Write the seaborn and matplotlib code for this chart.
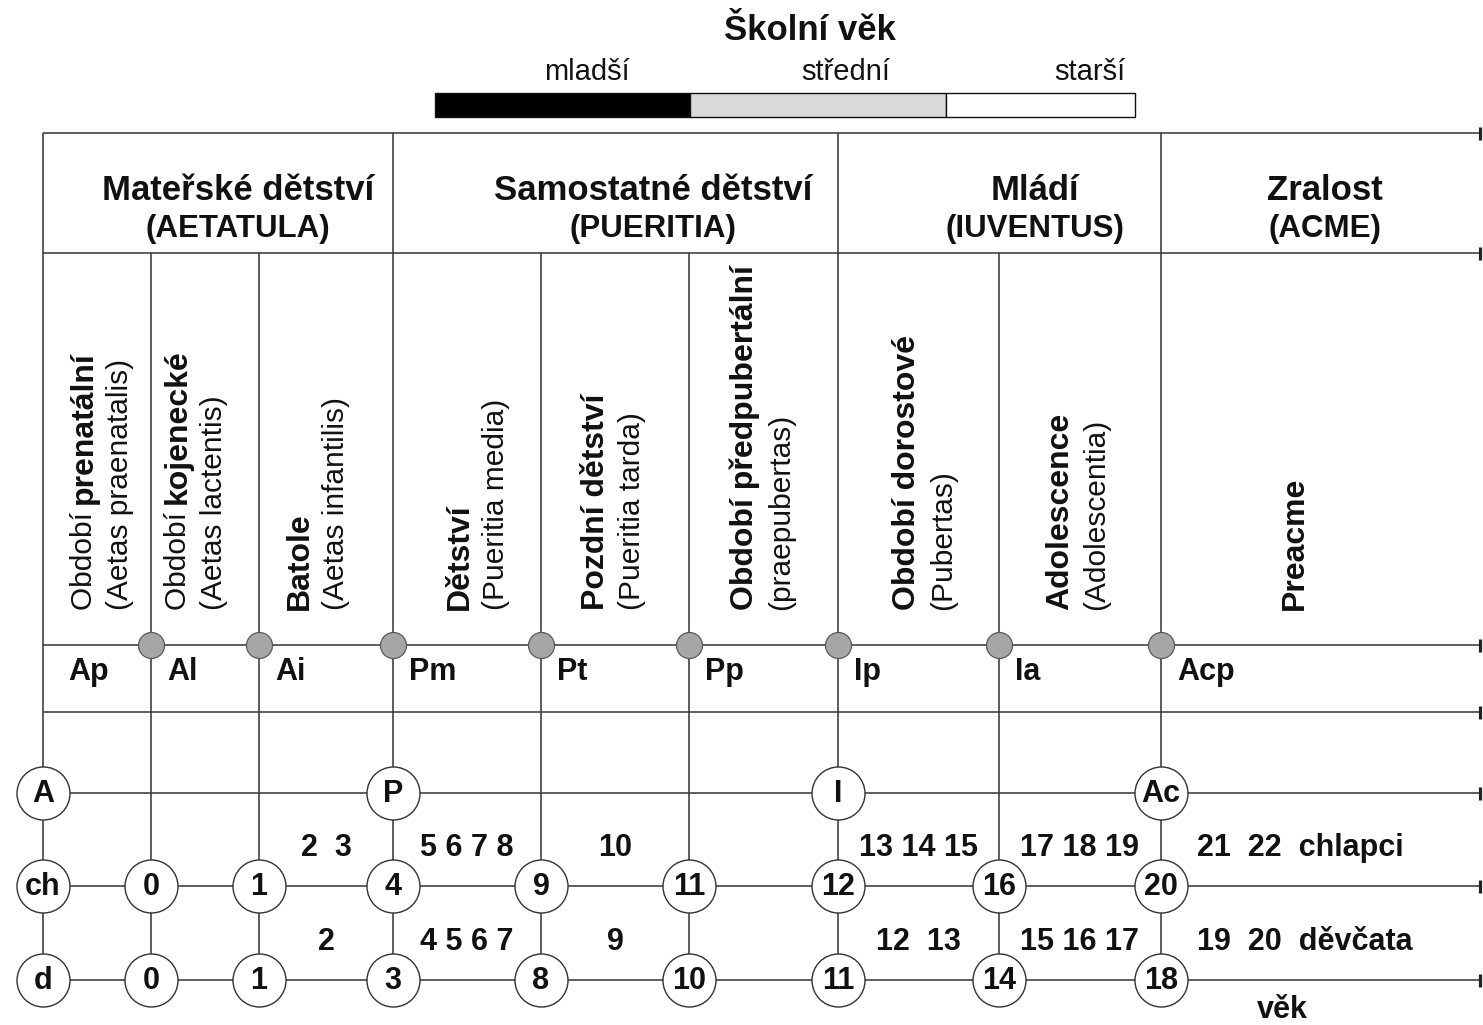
import matplotlib
matplotlib.use("Agg")
import matplotlib.pyplot as plt
import seaborn as sns
import pandas as pd

# ---------------- data ----------------
school_title = "Školní věk"
school_stages = ["mladší", "střední", "starší"]
school_colors = ["#000000", "#d9d9d9", "#ffffff"]

groups = ["Mateřské dětství", "Samostatné dětství", "Mládí", "Zralost"]
groups_latin = ["(AETATULA)", "(PUERITIA)", "(IUVENTUS)", "(ACME)"]

period_prefix = ["Období ", "Období ", "", "", "", "", "", "", ""]
period_names = ["prenatální", "kojenecké", "Batole", "Dětství", "Pozdní dětství",
                "Období předpubertální", "Období dorostové", "Adolescence", "Preacme"]
period_latin = ["(Aetas praenatalis)", "(Aetas lactentis)", "(Aetas infantilis)",
                "(Pueritia media)", "(Pueritia tarda)", "(praepubertas)",
                "(Pubertas)", "(Adolescentia)", ""]
period_codes = ["Ap", "Al", "Ai", "Pm", "Pt", "Pp", "Ip", "Ia", "Acp"]

stage_nodes = ["A", "", "", "P", "", "", "I", "", "Ac"]
boys_start = ["ch", "0", "1", "4", "9", "11", "12", "16", "20"]
girls_start = ["d", "0", "1", "3", "8", "10", "11", "14", "18"]
# ages lying inside each period (between its start node and the next one)
boys_between = [[], [], [2, 3], [5, 6, 7, 8], [10], [], [13, 14, 15], [17, 18, 19], [21, 22]]
girls_between = [[], [], [2], [4, 5, 6, 7], [9], [], [12, 13], [15, 16, 17], [19, 20]]
boys_label = "chlapci"
girls_label = "děvčata"
axis_label = "věk"

# ---------------- layout ----------------
W, H = 1483, 1025
col_x = [43, 151, 259, 393, 541, 689, 838, 999, 1161]
right_x = 1480
group_start_cols = [0, 3, 6, 8]
group_cx = [238, 653, 1035, 1325]
text_cx = [102, 196, 318, 478, 614, 763, 925, 1078, 1295]
bar_edges = [435, 690, 946, 1135]
bar_label_right = [630, 890, 1125]
y_top, y_group, y_dots, y_code = 133, 253, 645, 712
y_stage, y_boys, y_girls = 793, 886, 980
boys_sep = ["", "", "  ", " ", "", "", " ", " ", "  "]
girls_sep = ["", "", "", " ", "", "", "  ", " ", "  "]

LINE = "#3a3a3a"
TXT = "#111111"

sns.set_theme(style="white")
plt.rcParams['font.family'] = ['Liberation Sans', 'DejaVu Sans']

fig = plt.figure(figsize=(W / 100, H / 100), dpi=100)
ax = fig.add_axes([0, 0, 1, 1])
ax.set_xlim(0, W)
ax.set_ylim(H, 0)
ax.axis("off")

px = 72 / 100  # points per pixel

# ---- school age bar ----
for i, (lab, c) in enumerate(zip(school_stages, school_colors)):
    ax.barh(105, bar_edges[i + 1] - bar_edges[i], left=bar_edges[i], height=24,
            color=c, edgecolor="#111111", linewidth=1.0, zorder=3)
    ax.text(bar_label_right[i], 72, lab, ha="right", va="center", fontsize=21, color=TXT)
ax.text(810, 30, school_title, ha="center", va="center", fontsize=25,
        fontweight="bold", color=TXT)

# ---- grid lines ----
rows_y = [y_top, y_group, y_dots, y_code, y_stage, y_boys, y_girls]
ax.hlines(rows_y, col_x[0], right_x, color=LINE, linewidth=1.6 * px, zorder=1)
for i, x in enumerate(col_x):
    top = y_top if i in group_start_cols else y_group
    ax.vlines(x, top, y_girls, color=LINE, linewidth=1.6 * px, zorder=1)
ends = pd.DataFrame({"x": [right_x] * len(rows_y), "y": rows_y})
ax.scatter(ends["x"], ends["y"], marker="|", s=(13 * px) ** 2, linewidths=3.2 * px,
           color="#222222", zorder=2)

# ---- group headers ----
for g, gl, cx in zip(groups, groups_latin, group_cx):
    ax.text(cx, 190, g, ha="center", va="center", fontsize=25, fontweight="bold", color=TXT)
    ax.text(cx, 229, gl, ha="center", va="center", fontsize=22.5, fontweight="bold", color=TXT)

# ---- rotated period labels ----
for i in range(len(period_names)):
    lines = 2 if period_latin[i] else 1
    x1 = text_cx[i] - (18 if lines == 2 else 0)
    x2 = text_cx[i] + 18
    if period_prefix[i]:
        t = ax.text(x1, 610, period_prefix[i], rotation=90, rotation_mode="anchor",
                    ha="left", va="center", fontsize=21.5, color=TXT)
        ax.annotate(period_names[i], xy=(x1, 1.0), xycoords=("data", t),
                    rotation=90, rotation_mode="anchor", ha="left", va="center",
                    fontsize=23, fontweight="bold", color=TXT, annotation_clip=False)
    else:
        ax.text(x1, 610, period_names[i], rotation=90, rotation_mode="anchor",
                ha="left", va="center", fontsize=23, fontweight="bold", color=TXT)
    if period_latin[i]:
        ax.text(x2, 610, period_latin[i], rotation=90, rotation_mode="anchor",
                ha="left", va="center", fontsize=21.5, color=TXT)

# ---- gray dots & codes ----
dots = pd.DataFrame({"x": col_x[1:], "y": [y_dots] * (len(col_x) - 1)})
sns.scatterplot(data=dots, x="x", y="y", ax=ax, s=(26 * px) ** 2, color="#a6a6a6",
                edgecolor="#555555", linewidth=1.2 * px, zorder=4, legend=False)
for i, code in enumerate(period_codes):
    off = 25 if i == 0 else 16
    ax.text(col_x[i] + off, 672, code, ha="left", va="center", fontsize=22,
            fontweight="bold", color=TXT)

# ---- white nodes ----
nodes = []
for i, lab in enumerate(stage_nodes):
    if lab:
        nodes.append((col_x[i], y_stage, lab))
for i, lab in enumerate(boys_start):
    nodes.append((col_x[i], y_boys, lab))
for i, lab in enumerate(girls_start):
    nodes.append((col_x[i], y_girls, lab))
nodes = pd.DataFrame(nodes, columns=["x", "y", "label"])
sns.scatterplot(data=nodes, x="x", y="y", ax=ax, s=(53 * px) ** 2, color="white",
                edgecolor="#333333", linewidth=1.4 * px, zorder=5, legend=False)
for _, r in nodes.iterrows():
    ax.text(r["x"], r["y"] + 1, r["label"], ha="center", va="center", fontsize=22,
            fontweight="bold", color=TXT, zorder=6)

# ---- ages between nodes ----
def age_row(between, seps, y, tail):
    n = len(col_x)
    for i, ages in enumerate(between):
        if not ages:
            continue
        s = seps[i].join(str(a) for a in ages)
        if i == n - 1:
            ax.text(col_x[i] + 36, y, s + "  " + tail, ha="left", va="center",
                    fontsize=22, fontweight="bold", color=TXT)
        else:
            cx = (col_x[i] + col_x[i + 1]) / 2
            ax.text(cx, y, s, ha="center", va="center", fontsize=22,
                    fontweight="bold", color=TXT)

age_row(boys_between, boys_sep, 848, boys_label)
age_row(girls_between, girls_sep, 942, girls_label)

ax.text(1282, 1010, axis_label, ha="center", va="center", fontsize=22,
        fontweight="bold", color=TXT)

fig.savefig("out.png", dpi=100)
